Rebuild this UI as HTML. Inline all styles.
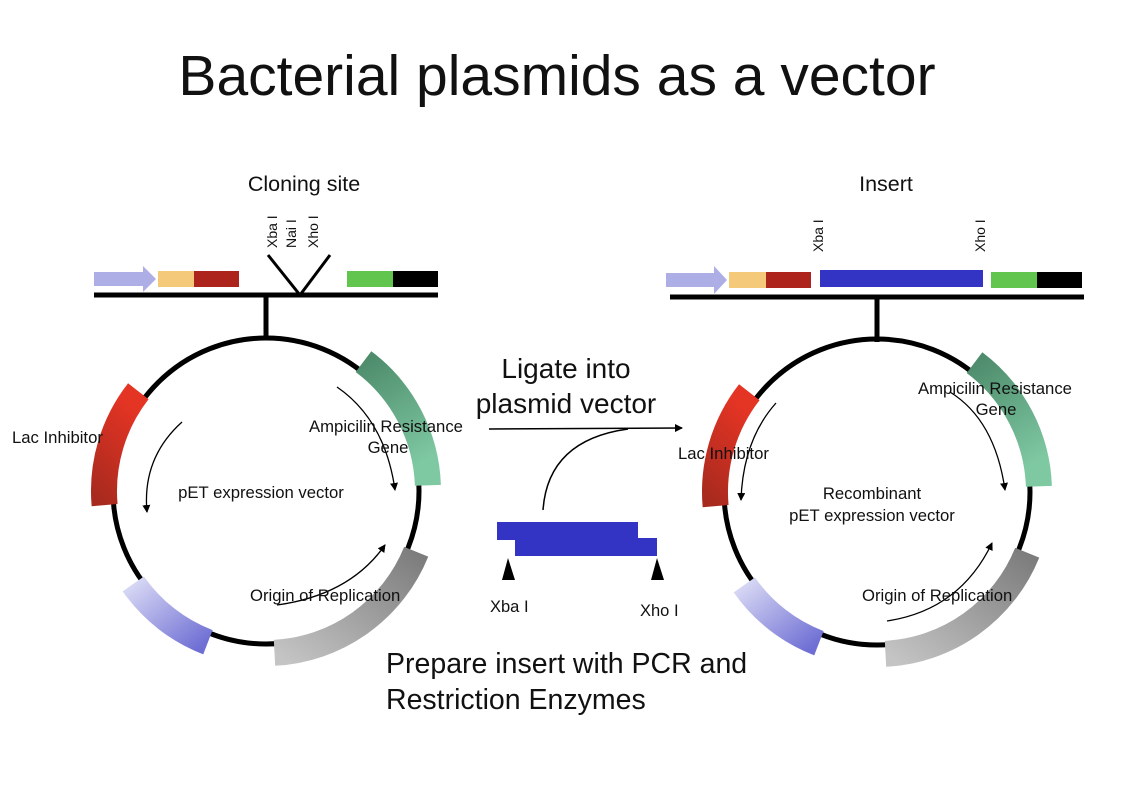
<!DOCTYPE html>
<html><head><meta charset="utf-8"><style>
body{margin:0;background:#fff}
svg{display:block}
text{font-family:"Liberation Sans",sans-serif;fill:#111}
</style></head><body>
<svg width="1144" height="785" viewBox="0 0 1144 785" xmlns="http://www.w3.org/2000/svg">
<defs>
<marker id="ah" markerWidth="8" markerHeight="8" refX="7" refY="4" orient="auto" markerUnits="userSpaceOnUse"><path d="M0,0 L8,4 L0,8 z" fill="#000"/></marker>
<linearGradient id="gRed" x1="0" y1="1" x2="0.3" y2="0"><stop offset="0" stop-color="#a82a1e"/><stop offset="1" stop-color="#e33424"/></linearGradient>
<linearGradient id="gGreen" x1="0" y1="0" x2="0.3" y2="1"><stop offset="0" stop-color="#4e8c6c"/><stop offset="1" stop-color="#7ec8a2"/></linearGradient>
<linearGradient id="gGray" x1="1" y1="0" x2="0" y2="1"><stop offset="0" stop-color="#7c7c7c"/><stop offset="1" stop-color="#c4c4c4"/></linearGradient>
<linearGradient id="gLav" x1="0" y1="0" x2="1" y2="1"><stop offset="0" stop-color="#d6d6f4"/><stop offset="1" stop-color="#6e6ed4"/></linearGradient>
</defs>

<text x="557" y="95" font-size="57" text-anchor="middle">Bacterial plasmids as a vector</text>

<!-- LEFT -->
<text x="304" y="191" font-size="21.5" text-anchor="middle">Cloning site</text>
<text transform="translate(277,248) rotate(-90)" font-size="14">Xba I</text>
<text transform="translate(296,248) rotate(-90)" font-size="14">Nai I</text>
<text transform="translate(318,248) rotate(-90)" font-size="14">Xho I</text>
<polyline points="268,255 300,295 330,255" fill="none" stroke="#000" stroke-width="3"/>
<path d="M94,272 H143 V266 L156,279 L143,292 V286 H94 z" fill="#aeaee6"/>
<rect x="158" y="271" width="36" height="16" fill="#f5c97a"/>
<rect x="194" y="271" width="45" height="16" fill="#ad241c"/>
<rect x="347" y="271" width="46" height="16" fill="#62c64e"/>
<rect x="393" y="271" width="45" height="16" fill="#000"/>
<line x1="94" y1="295" x2="438" y2="295" stroke="#000" stroke-width="5"/>
<line x1="266" y1="295" x2="266" y2="340" stroke="#000" stroke-width="5"/>
<circle cx="266" cy="491" r="153" fill="none" stroke="#000" stroke-width="5"/>
<g fill="none" stroke-width="26">
<path d="M104.6,505.1 A162,162 0 0 1 138.3,391.3" stroke="url(#gRed)"/>
<path d="M363.5,361.6 A162,162 0 0 1 427.9,485.3" stroke="url(#gGreen)"/>
<path d="M416.2,551.7 A162,162 0 0 1 274.5,652.8" stroke="url(#gGray)"/>
<path d="M207.9,642.2 A162,162 0 0 1 133.3,583.9" stroke="url(#gLav)"/>
</g>
<g fill="none" stroke="#000" stroke-width="1.3" marker-end="url(#ah)">
<path d="M182,422 Q142,458 147,512"/>
<path d="M337,387 Q385,420 395,490"/>
<path d="M277,605 Q350,595 385,545"/>
</g>
<text x="12" y="443" font-size="16.7">Lac Inhibitor</text>
<text x="386" y="432" font-size="16.7" text-anchor="middle">Ampicilin Resistance</text>
<text x="388" y="453" font-size="16.7" text-anchor="middle">Gene</text>
<text x="261" y="498" font-size="16.7" text-anchor="middle">pET expression vector</text>
<text x="250" y="601" font-size="16.7">Origin of Replication</text>

<!-- MIDDLE -->
<text x="566" y="378" font-size="28" text-anchor="middle">Ligate into</text>
<text x="566" y="413" font-size="28" text-anchor="middle">plasmid vector</text>
<line x1="489" y1="429" x2="682" y2="428" stroke="#000" stroke-width="1.5" marker-end="url(#ah)"/>
<path d="M543,510 Q548,440 628,429" fill="none" stroke="#000" stroke-width="1.5"/>
<rect x="497" y="522" width="141" height="18" fill="#3333c4"/>
<rect x="515" y="538" width="142" height="18" fill="#3333c4"/>
<path d="M502,580 L508,558 L515,580 z" fill="#000"/>
<path d="M651,580 L657,558 L664,580 z" fill="#000"/>
<text x="490" y="612" font-size="16.5">Xba I</text>
<text x="640" y="616" font-size="16.5">Xho I</text>
<text x="386" y="673" font-size="28.5">Prepare insert with PCR and</text>
<text x="386" y="709" font-size="28.5">Restriction Enzymes</text>

<!-- RIGHT -->
<text x="886" y="191" font-size="21.5" text-anchor="middle">Insert</text>
<text transform="translate(823,252) rotate(-90)" font-size="14">Xba I</text>
<text transform="translate(985,252) rotate(-90)" font-size="14">Xho I</text>
<path d="M666,273 H714 V266 L727,280 L714,294 V287 H666 z" fill="#aeaee6"/>
<rect x="729" y="272" width="37" height="16" fill="#f5c97a"/>
<rect x="766" y="272" width="45" height="16" fill="#ad241c"/>
<rect x="820" y="270" width="163" height="17" fill="#3333c4"/>
<rect x="991" y="272" width="46" height="16" fill="#62c64e"/>
<rect x="1037" y="272" width="45" height="16" fill="#000"/>
<line x1="670" y1="297" x2="1084" y2="297" stroke="#000" stroke-width="5"/>
<line x1="877" y1="297" x2="877" y2="342" stroke="#000" stroke-width="5"/>
<circle cx="877" cy="492" r="153" fill="none" stroke="#000" stroke-width="5"/>
<g fill="none" stroke-width="26">
<path d="M715.6,506.1 A162,162 0 0 1 749.3,392.3" stroke="url(#gRed)"/>
<path d="M974.5,362.6 A162,162 0 0 1 1038.9,486.3" stroke="url(#gGreen)"/>
<path d="M1027.2,552.7 A162,162 0 0 1 885.5,653.8" stroke="url(#gGray)"/>
<path d="M818.9,643.2 A162,162 0 0 1 744.3,584.9" stroke="url(#gLav)"/>
</g>
<g fill="none" stroke="#000" stroke-width="1.3" marker-end="url(#ah)">
<path d="M776,403 Q743,440 741,500"/>
<path d="M950,392 Q995,420 1005,490"/>
<path d="M887,621 Q960,610 992,543"/>
</g>
<text x="995" y="394" font-size="16.7" text-anchor="middle">Ampicilin Resistance</text>
<text x="996" y="415" font-size="16.7" text-anchor="middle">Gene</text>
<text x="678" y="459" font-size="16.7">Lac Inhibitor</text>
<text x="872" y="499" font-size="16.7" text-anchor="middle">Recombinant</text>
<text x="872" y="521" font-size="16.7" text-anchor="middle">pET expression vector</text>
<text x="862" y="601" font-size="16.7">Origin of Replication</text>
</svg>
</body></html>
